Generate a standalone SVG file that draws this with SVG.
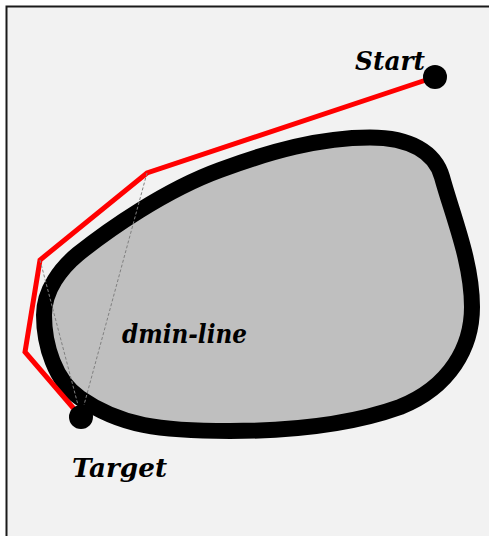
<svg xmlns="http://www.w3.org/2000/svg" width="489" height="536" viewBox="0 0 489 536">
<style>
.lbl{font-family:"DejaVu Serif","Liberation Serif",serif;font-weight:bold;font-style:italic;font-size:26px;fill:#000}
.dm{fill:none;stroke:#808080;stroke-width:1;stroke-dasharray:3,2}
.pt{fill:#000}
</style>
<rect x="0" y="0" width="489" height="536" fill="#ffffff"/>
<rect x="6.5" y="6.5" width="500" height="550" fill="#f2f2f2" stroke="#1a1a1a" stroke-width="2"/>
<g id="obstacle">
<path d="M370,137.5 C410,137.5 435,152 442,177 C453,217 472,262 472,307 C472,347 450,387 400,407 C350,425 290,431 230,431 C160,431 120,426 80,398 C55,381 44,345 44,315 C44,290 61,268 78,254 C108,230 165,190 220,170 C270,151.5 320,137.5 370,137.5 Z" fill="#bfbfbf" stroke="#000" stroke-width="16" stroke-linejoin="round"/>
</g>
<g id="connectors">
<polyline points="435,77 147,173 40,260 25,352 81,417" fill="none" stroke="#ff0000" stroke-width="5" stroke-linejoin="miter"/>
<line class="dm" x1="40" y1="260" x2="78" y2="405"/>
<line class="dm" x1="147" y1="173" x2="84" y2="405"/>
</g>
<g id="start">
<circle class="pt" cx="435" cy="77" r="12"/>
<text class="lbl" x="355" y="70" textLength="70" lengthAdjust="spacingAndGlyphs">Start</text>
</g>
<g id="target">
<circle class="pt" cx="81" cy="417" r="12"/>
<text class="lbl" x="72" y="477" textLength="95" lengthAdjust="spacingAndGlyphs">Target</text>
</g>
<g id="dmin-label">
<text class="lbl" x="122" y="343" textLength="125" lengthAdjust="spacingAndGlyphs">dmin-line</text>
</g>
</svg>
